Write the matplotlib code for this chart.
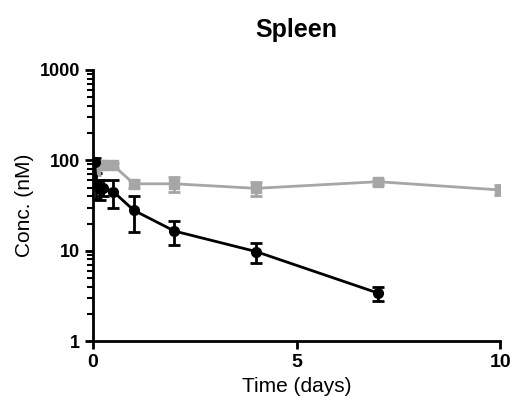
import numpy as np
import matplotlib
matplotlib.use("Agg")
import matplotlib.pyplot as plt
from matplotlib.ticker import LogLocator, FixedLocator

plt.rcParams['font.family'] = ['Liberation Sans', 'DejaVu Sans']

# gray series (squares)
t_gray = [0.04, 0.17, 0.25, 0.5, 1, 2, 4, 7, 10]
c_gray = [80, 88, 88, 88, 55, 55, 49, 58, 47]
e_gray = [12, 8, 8, 6, 6, 10, 9, 4, 6]

# black series (circles)
t_black = [0.04, 0.08, 0.17, 0.25, 0.5, 1, 2, 4, 7]
c_black = [95, 55, 48, 50, 45, 28, 16.5, 9.8, 3.4]
e_black = [10, 18, 12, 10, 15, 12, 5, 2.5, 0.6]

fig = plt.figure(figsize=(5.14, 4.09), dpi=100)
ax = fig.add_axes([0.181, 0.166, 0.792, 0.663])

ax.errorbar(t_gray, c_gray, yerr=e_gray, color='#a6a6a6', marker='s', ms=7,
            lw=2, elinewidth=2, capsize=4, capthick=2)
ax.errorbar(t_black, c_black, yerr=e_black, color='black', marker='o', ms=7,
            lw=2, elinewidth=2, capsize=4, capthick=2)

ax.set_yscale('log')
ax.set_ylim(1, 1000)
ax.set_xlim(0, 10)
ax.set_xticks([0, 5, 10])
ax.yaxis.set_major_locator(FixedLocator([1, 10, 100, 1000]))
ax.yaxis.set_minor_locator(LogLocator(base=10, subs=np.arange(2, 10)))
ax.set_yticklabels(['1', '10', '100', '1000'])
ax.xaxis.set_minor_locator(FixedLocator([]))

for s in ['top', 'right']:
    ax.spines[s].set_visible(False)
for s in ['left', 'bottom']:
    ax.spines[s].set_linewidth(2)
ax.tick_params(which='major', width=2, length=6)
ax.tick_params(which='minor', width=1.5, length=4)
ax.tick_params(axis='y', labelsize=13)
ax.tick_params(axis='x', labelsize=14)
for lbl in ax.get_yticklabels() + ax.get_xticklabels():
    lbl.set_fontweight('bold')

ax.set_xlabel('Time (days)', fontsize=15)
ax.set_ylabel('Conc. (nM)', fontsize=15)
ax.set_title('Spleen', fontsize=18, fontweight='bold', pad=24)

fig.savefig('out.png', dpi=100)
